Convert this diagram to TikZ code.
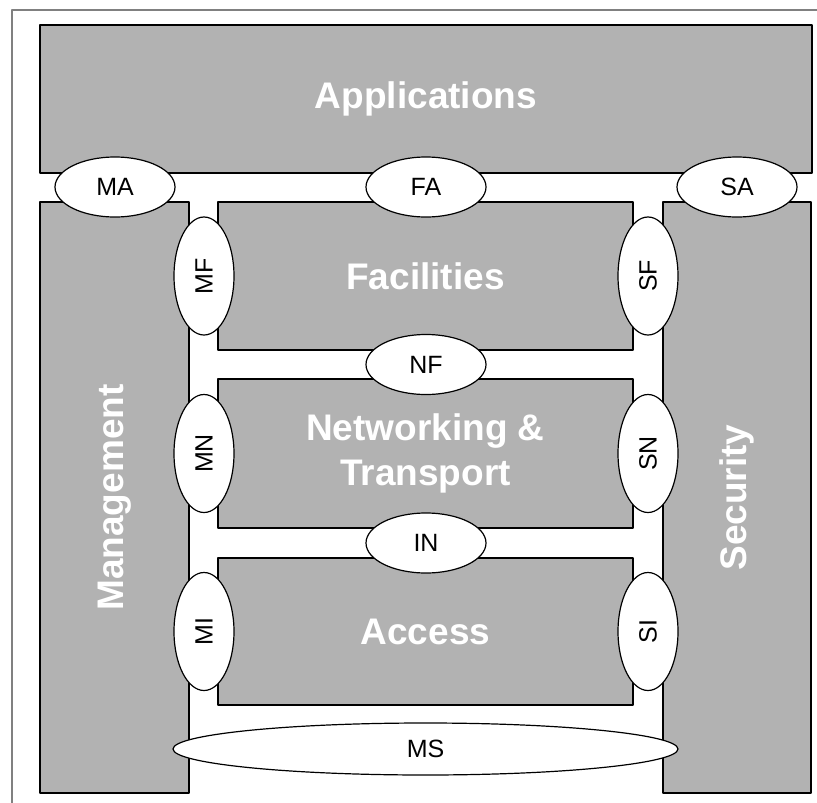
\documentclass[tikz,border=0pt]{standalone}
\usepackage{fontspec}
\setmainfont{Liberation Sans}
\usetikzlibrary{shapes.geometric}

\definecolor{boxgray}{gray}{0.70}
\definecolor{framegray}{gray}{0.50}

\begin{document}
\begin{tikzpicture}[
        x = 1pt, y = -1pt,
        line join=round,
        layer/.style = {draw=black, line width=1.2pt, fill=boxgray, text=white, align=center, inner sep=0pt,
                        font=\fontsize{37}{45}\selectfont\bfseries},
        iface/.style = {ellipse, draw=black, line width=1.2pt, fill=white, inner sep=0pt,
                        minimum width=120pt, minimum height=60pt, font=\fontsize{25}{30}\selectfont}
    ]

    \clip (0,0) rectangle (817,803);
    \draw[framegray, line width=2pt] (12,10) rectangle (840,830);

    % layers
    \node[layer, minimum width=772pt, minimum height=148pt] (app) at (426,99) {Applications};
    \node[layer, rotate=90, minimum width=591pt, minimum height=149pt] (mgmt) at (114.5,497.5) {Management};
    \node[layer, rotate=90, minimum width=591pt, minimum height=148pt] (sec) at (737,497.5) {Security};
    \node[layer, minimum width=415pt, minimum height=148pt] (fac) at (425.5,276) {Facilities};
    \node[layer, minimum width=415pt, minimum height=149pt] (net) at (425.5,453.5) {Networking \&\\Transport};
    \node[layer, minimum width=415pt, minimum height=147pt] (acc) at (425.5,631.5) {Access};

    % interfaces
    \node[iface] (MA) at (115,187) {MA};
    \node[iface] (FA) at (426,187) {FA};
    \node[iface] (SA) at (737,187) {SA};
    \node[iface] (NF) at (426,364.5) {NF};
    \node[iface] (IN) at (426,543) {IN};

    \node[iface, rotate=90, minimum width=118pt] (MF) at (204,276) {MF};
    \node[iface, rotate=90, minimum width=118pt] (MN) at (204,453.5) {MN};
    \node[iface, rotate=90, minimum width=118pt] (MI) at (204,631.5) {MI};
    \node[iface, rotate=90, minimum width=118pt] (SF) at (648,276) {SF};
    \node[iface, rotate=90, minimum width=118pt] (SN) at (648,453.5) {SN};
    \node[iface, rotate=90, minimum width=118pt] (SI) at (648,631.5) {SI};

    \node[iface, minimum width=505pt, minimum height=52pt] (MS) at (425.5,749) {MS};
\end{tikzpicture}
\end{document}
